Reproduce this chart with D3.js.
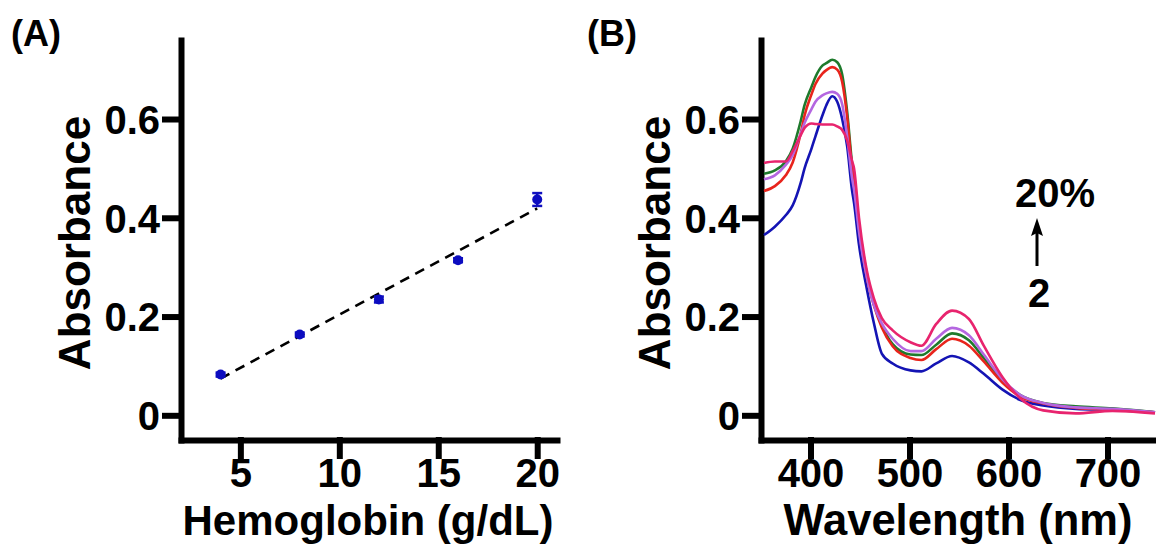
<!DOCTYPE html>
<html>
<head>
<meta charset="utf-8">
<script src="https://cdn.jsdelivr.net/npm/d3@7"></script>
<style>
  body { margin: 0; background: #fff; }
  svg { display: block; font-family: "Liberation Sans", Arial, sans-serif; font-weight: bold; }
  .axis path, .axis line { stroke: #000; stroke-width: 6; stroke-linecap: square; }
  .axis text { font-size: 40px; font-weight: bold; fill: #000; font-family: "Liberation Sans", Arial, sans-serif; }
  .title { fill: #000; }
</style>
</head>
<body>
<div id="chart"></div>
<script>
// panel A: hemoglobin calibration
const hbConc = [4, 8, 12, 16, 20];
const hbAbs = [0.0825, 0.1636, 0.2345, 0.314, 0.437];
const hbErr = [0.004, 0.004, 0.006, 0.004, 0.013];
const fitConc = [4, 20];
const fitAbs = [0.0745, 0.419];

// panel B: spectra
const wavelengths = [353, 364, 375, 382, 390, 394, 401, 405, 412, 416, 422, 427, 432, 437, 442, 444, 449, 457, 464, 472, 483, 501, 512, 527, 543, 560, 575, 594, 612, 635, 668, 705, 748];
const blueAbs   = [0.365, 0.382, 0.405, 0.425, 0.47, 0.50, 0.54, 0.565, 0.607, 0.628, 0.646, 0.635, 0.600, 0.545, 0.455, 0.43, 0.345, 0.255, 0.187, 0.125, 0.105, 0.091, 0.089, 0.105, 0.120, 0.107, 0.084, 0.052, 0.031, 0.020, 0.013, 0.011, 0.006];
const greenAbs  = [0.489, 0.496, 0.514, 0.540, 0.595, 0.628, 0.665, 0.685, 0.708, 0.713, 0.720, 0.715, 0.690, 0.615, 0.51, 0.479, 0.386, 0.286, 0.226, 0.183, 0.144, 0.123, 0.122, 0.143, 0.166, 0.152, 0.116, 0.070, 0.041, 0.025, 0.018, 0.014, 0.006];
const redAbs    = [0.454, 0.464, 0.486, 0.512, 0.57, 0.607, 0.650, 0.671, 0.692, 0.699, 0.705, 0.700, 0.675, 0.605, 0.50, 0.47, 0.379, 0.278, 0.223, 0.178, 0.140, 0.116, 0.112, 0.134, 0.155, 0.141, 0.109, 0.066, 0.038, 0.024, 0.015, 0.011, 0.006];
const violetAbs = [0.478, 0.486, 0.507, 0.527, 0.570, 0.592, 0.620, 0.635, 0.648, 0.652, 0.655, 0.651, 0.630, 0.565, 0.48, 0.457, 0.372, 0.279, 0.223, 0.186, 0.155, 0.130, 0.130, 0.155, 0.177, 0.162, 0.123, 0.073, 0.041, 0.025, 0.016, 0.013, 0.006];
const pinkAbs   = [0.511, 0.514, 0.514, 0.535, 0.567, 0.582, 0.591, 0.590, 0.589, 0.589, 0.589, 0.585, 0.578, 0.557, 0.515, 0.50, 0.40, 0.292, 0.237, 0.197, 0.172, 0.148, 0.141, 0.185, 0.212, 0.195, 0.141, 0.077, 0.034, 0.010, 0.004, 0.009, 0.004];
const spectra = [
  {values: blueAbs, color: "#1414b4"},
  {values: greenAbs, color: "#1e7a2c"},
  {values: redAbs, color: "#e8241c"},
  {values: violetAbs, color: "#b466e0"},
  {values: pinkAbs, color: "#e8246e"}
];

const absTicks = [0, 0.2, 0.4, 0.6];
const hbTicks = [5, 10, 15, 20];
const wlTicks = [400, 500, 600, 700];

let width = 1156, height = 550;
let svg = d3.select("#chart").append("svg")
  .attr("width", width)
  .attr("height", height);

let yScale = d3.scaleLinear().domain([-0.05, 0.76]).range([440, 40]);
let xA = d3.scaleLinear().domain([2, 21]).range([181, 557]);
let xB = d3.scaleLinear().domain([350, 750]).range([761, 1157]);

function absFormat(d) {
  return d === 0 ? "0" : d.toFixed(1);
}

function drawAxes(xScale, xTicks, xLabel, xLabelSize, left) {
  svg.append("g")
    .attr("class", "axis")
    .attr("transform", "translate(" + left + ",0)")
    .call(d3.axisLeft(yScale).tickValues(absTicks).tickFormat(absFormat)
      .tickSize(16).tickPadding(5).tickSizeOuter(0))
    .call(g => g.selectAll("text").attr("dy", "0.36em"));

  svg.append("g")
    .attr("class", "axis")
    .attr("transform", "translate(0,440)")
    .call(d3.axisBottom(xScale).tickValues(xTicks)
      .tickSize(16).tickPadding(3).tickSizeOuter(0));

  let r = xScale.range();
  svg.append("text")
    .attr("class", "title")
    .attr("x", (r[0] + r[1]) / 2 - 1)
    .attr("y", 535)
    .attr("text-anchor", "middle")
    .style("font-size", xLabelSize + "px")
    .text(xLabel);

  svg.append("text")
    .attr("class", "title")
    .attr("transform", "translate(" + (left - 91) + ",243) rotate(-90)")
    .attr("text-anchor", "middle")
    .style("font-size", "44px")
    .text("Absorbance");
}

drawAxes(xA, hbTicks, "Hemoglobin (g/dL)", 42, 181);
drawAxes(xB, wlTicks, "Wavelength (nm)", 43.5, 761);

// panel labels
svg.append("text").attr("x", 11).attr("y", 46).style("font-size", "36px").text("(A)");
svg.append("text").attr("x", 587).attr("y", 46).style("font-size", "36px").text("(B)");

// panel A: fit line, error bars, points
let fitLine = d3.line()
  .x(function(d, i) { return xA(d); })
  .y(function(d, i) { return yScale(fitAbs[i]); });
svg.append("path")
  .datum(fitConc)
  .attr("d", fitLine)
  .attr("fill", "none")
  .attr("stroke", "#000")
  .attr("stroke-width", 2.6)
  .attr("stroke-dasharray", "10,7");

let pts = svg.append("g").attr("class", "points");
hbConc.forEach(function(c, i) {
  let x = xA(c);
  let y1 = yScale(hbAbs[i] - hbErr[i]);
  let y2 = yScale(hbAbs[i] + hbErr[i]);
  pts.append("line").attr("x1", x).attr("x2", x).attr("y1", y1).attr("y2", y2)
    .attr("stroke", "#1010c0").attr("stroke-width", 2.5);
  [y1, y2].forEach(function(y) {
    pts.append("line").attr("x1", x - 5).attr("x2", x + 5).attr("y1", y).attr("y2", y)
      .attr("stroke", "#1010c0").attr("stroke-width", 2.5);
  });
  pts.append("circle")
    .attr("cx", x)
    .attr("cy", yScale(hbAbs[i]))
    .attr("r", 5)
    .attr("fill", "#0c0cc0");
});

// panel B: spectra
let specLine = d3.line()
  .x(function(d, i) { return xB(wavelengths[i]); })
  .y(function(d) { return yScale(d); })
  .curve(d3.curveMonotoneX);

let specGroup = svg.append("g").attr("class", "spectra");
spectra.forEach(function(s) {
  specGroup.append("path")
    .datum(s.values)
    .attr("d", specLine)
    .attr("fill", "none")
    .attr("stroke", s.color)
    .attr("stroke-width", 2.6);
});

// concentration annotation
svg.append("text").attr("x", 1055).attr("y", 207).attr("text-anchor", "middle")
  .style("font-size", "40px").text("20%");
svg.append("text").attr("x", 1039).attr("y", 307).attr("text-anchor", "middle")
  .style("font-size", "40px").text("2");
svg.append("line").attr("x1", 1037).attr("x2", 1037).attr("y1", 266).attr("y2", 232)
  .attr("stroke", "#000").attr("stroke-width", 3);
svg.append("path").attr("d", "M1037,218L1031,236L1037,233L1043,236Z").attr("fill", "#000");
</script>
</body>
</html>
